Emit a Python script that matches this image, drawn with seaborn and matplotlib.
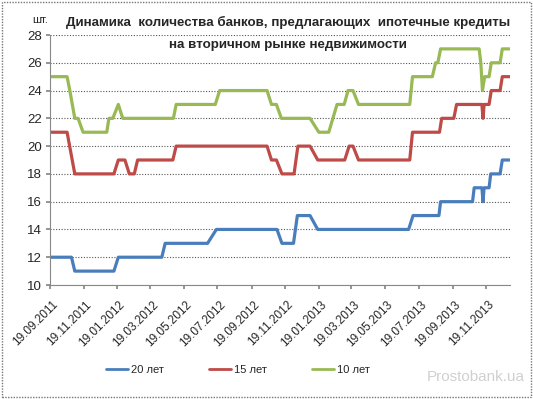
import matplotlib
matplotlib.use("Agg")
import matplotlib.pyplot as plt
import matplotlib.dates as mdates
from matplotlib.patches import Rectangle
from matplotlib.transforms import ScaledTranslation
import seaborn as sns
import pandas as pd

# ---- data (change points) ----
dates_20 = ["2011-09-19", "2011-10-28", "2011-11-03", "2012-01-13", "2012-01-21", "2012-04-09",
            "2012-04-15", "2012-07-01", "2012-07-17", "2012-11-04", "2012-11-13", "2012-12-04",
            "2012-12-11", "2013-01-03", "2013-01-17", "2013-07-01", "2013-07-09", "2013-08-25",
            "2013-08-28", "2013-10-25", "2013-10-28", "2013-11-11", "2013-11-13", "2013-11-15",
            "2013-11-24", "2013-11-27", "2013-12-14", "2013-12-18", "2013-12-31"]
vals_20 = [12, 12, 11, 11, 12, 12, 13, 13, 14, 14, 13, 13, 15, 15, 14, 14, 15, 15,
           16, 16, 17, 17, 16, 17, 17, 18, 18, 19, 19]

dates_15 = ["2011-09-19", "2011-10-20", "2011-11-03", "2012-01-13", "2012-01-21", "2012-02-02",
            "2012-02-10", "2012-02-19", "2012-02-25", "2012-04-29", "2012-05-05", "2012-10-17",
            "2012-10-25", "2012-11-03", "2012-11-13", "2012-12-05", "2012-12-12", "2013-01-03",
            "2013-01-17", "2013-03-07", "2013-03-15", "2013-03-22", "2013-04-01", "2013-07-03",
            "2013-07-08", "2013-08-26", "2013-08-30", "2013-09-21", "2013-09-26", "2013-11-11",
            "2013-11-13", "2013-11-15", "2013-11-24", "2013-11-28", "2013-12-14", "2013-12-18",
            "2013-12-31"]
vals_15 = [21, 21, 18, 18, 19, 19, 18, 18, 19, 19, 20, 20, 19, 19, 18, 18, 20, 20,
           19, 19, 20, 20, 19, 19, 21, 21, 22, 22, 23, 23, 22, 23, 23, 24, 24, 25, 25]

dates_10 = ["2011-09-19", "2011-10-20", "2011-10-25", "2011-11-03", "2011-11-09", "2011-11-18",
            "2011-12-31", "2012-01-04", "2012-01-11", "2012-01-21", "2012-01-29", "2012-04-30",
            "2012-05-05", "2012-07-15", "2012-07-23", "2012-10-17", "2012-10-25", "2012-11-03",
            "2012-11-12", "2013-01-03", "2013-01-19", "2013-02-06", "2013-02-21", "2013-03-06",
            "2013-03-13", "2013-03-22", "2013-04-01", "2013-07-03", "2013-07-08", "2013-08-13",
            "2013-08-19", "2013-08-23", "2013-08-28", "2013-11-06", "2013-11-09", "2013-11-12",
            "2013-11-16", "2013-11-24", "2013-11-28", "2013-12-14", "2013-12-18", "2013-12-31"]
vals_10 = [25, 25, 24, 22, 22, 21, 21, 22, 22, 23, 22, 22, 23, 23, 24, 24, 23, 23,
           22, 22, 21, 21, 23, 23, 24, 24, 23, 23, 25, 25, 26, 26, 27, 27, 26, 24,
           25, 25, 26, 26, 27, 27]

series_names = ["20 лет", "15 лет", "10 лет"]
series_colors = ["#4A7EBB", "#BE4B48", "#98B954"]
tick_dates = ["2011-09-19", "2011-11-19", "2012-01-19", "2012-03-19", "2012-05-19", "2012-07-19",
              "2012-09-19", "2012-11-19", "2013-01-19", "2013-03-19", "2013-05-19", "2013-07-19",
              "2013-09-19", "2013-11-19"]
y_ticks = [10, 12, 14, 16, 18, 20, 22, 24, 26, 28]
title_line1 = "Динамика  количества банков, предлагающих  ипотечные кредиты"
title_line2 = "на вторичном рынке недвижимости"

frames = []
for name, d, v in zip(series_names, [dates_20, dates_15, dates_10], [vals_20, vals_15, vals_10]):
    frames.append(pd.DataFrame({"date": pd.to_datetime(d), "value": v, "series": name}))
df = pd.concat(frames, ignore_index=True)

sns.set_theme(style="white")
plt.rcParams["font.family"] = ["Liberation Sans", "DejaVu Sans"]

fig = plt.figure(figsize=(5.33, 3.99), dpi=100)
ax = fig.add_axes([50 / 533, 1 - 285 / 399, 460 / 533, 250 / 399])

sns.lineplot(data=df, x="date", y="value", hue="series", hue_order=series_names,
             palette=series_colors, estimator=None, linewidth=2.3, ax=ax, legend=True)

ax.set_xlim(pd.Timestamp("2011-09-19"), pd.Timestamp("2014-01-01"))
ax.set_ylim(10, 28)
ax.set_yticks(y_ticks)
ax.set_xticks(pd.to_datetime(tick_dates))
ax.xaxis.set_major_formatter(mdates.DateFormatter("%d.%m.%Y"))
ax.tick_params(axis="x", labelsize=8.5, rotation=45, length=3, color="#888888", direction="out",
               pad=10, bottom=True)
ax.tick_params(axis="y", labelsize=9.5, length=3, color="#888888", direction="out", left=True,
               pad=3)
shift = ScaledTranslation(6 / 100, 0, fig.dpi_scale_trans)
for lbl in ax.get_xticklabels():
    lbl.set_ha("right")
    lbl.set_va("center")
    lbl.set_rotation_mode("anchor")
    lbl.set_transform(lbl.get_transform() + shift)
ax.set_xlabel("")
ax.set_ylabel("")
ax.grid(axis="y", linestyle=(0, (1, 1.5)), color="#555555", linewidth=0.8)
ax.grid(axis="x", visible=False)
for s in ["top", "right"]:
    ax.spines[s].set_visible(False)
for s in ["left", "bottom"]:
    ax.spines[s].set_color("#888888")
    ax.spines[s].set_linewidth(0.8)

leg = ax.legend(loc="center", bbox_to_anchor=(238 / 533, 1 - 370 / 399),
                bbox_transform=fig.transFigure, ncol=3, frameon=False, fontsize=8,
                handlelength=2.0, columnspacing=4.0, handletextpad=0.3)
for line in leg.get_lines():
    line.set_linewidth(2.0)

fig.text(288 / 533, 1 - 22 / 399, title_line1, ha="center", va="center", fontsize=9.6,
         fontweight="bold")
fig.text(288 / 533, 1 - 45 / 399, title_line2, ha="center", va="center", fontsize=9.6,
         fontweight="bold")
fig.text(40 / 533, 1 - 20 / 399, "шт.", ha="center", va="center", fontsize=8)
fig.text(525 / 533, 1 - 377 / 399, "Prostobank.ua", ha="right", va="center", fontsize=11,
         color="#D0D0D0")

fig.patches.append(Rectangle((0.003, 0.004), 0.994, 0.992, transform=fig.transFigure,
                             fill=False, edgecolor="#777777", linewidth=1.0,
                             linestyle=(0, (1, 1))))

fig.savefig("out.png", dpi=100)
